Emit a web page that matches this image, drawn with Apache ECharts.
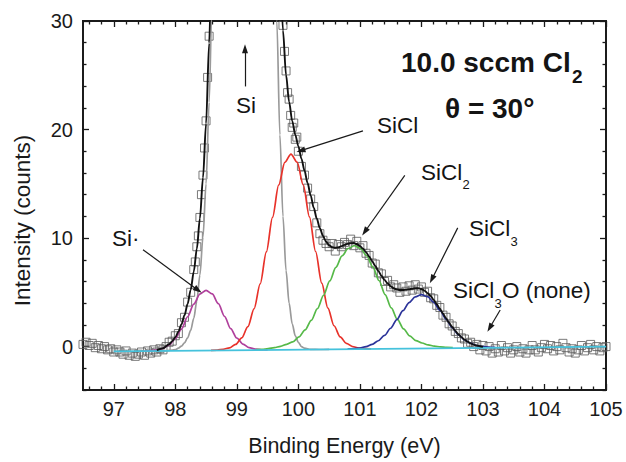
<!DOCTYPE html>
<html>
<head>
<meta charset="utf-8">
<script src="https://cdn.jsdelivr.net/npm/echarts@6/dist/echarts.min.js"></script>
<style>html,body{margin:0;padding:0;background:#fff}#c{width:626px;height:462px}</style>
</head>
<body>
<div id="c"></div>
<script>
// ---- data ----
const xMajor = [97, 98, 99, 100, 101, 102, 103, 104, 105];
const yMajor = [0, 10, 20, 30];

const measured = [
[96.50,0.2],[96.55,0.4],[96.60,0.1],[96.65,0.3],[96.70,-0.1],[96.75,0.1],[96.80,-0.2],[96.85,0.0],[96.90,-0.3],[96.95,-0.2],
[97.00,-0.5],[97.05,-0.3],[97.10,-0.5],[97.15,-0.7],[97.20,-0.4],[97.25,-0.8],[97.30,-0.6],[97.35,-0.9],[97.40,-0.7],[97.45,-0.5],
[97.50,-0.8],[97.55,-0.4],[97.60,-0.6],[97.65,-0.3],[97.70,-0.5],[97.75,-0.2],[97.80,-0.3],[97.85,0.0],
[97.90,0.4],[97.95,0.5],[98.00,1.0],[98.05,1.2],[98.10,2.2],[98.15,2.7],[98.20,4.1],[98.25,5.0],[98.30,7.1],[98.325,7.8],
[98.35,9.2],[98.375,10.2],[98.40,11.9],[98.425,14.0],[98.45,15.8],[98.475,18.3],[98.50,20.8],[98.525,24.8],[98.55,28.6],[98.575,32],
[98.60,38],[98.65,52],[98.70,70],[98.75,95],[98.80,125],[98.85,155],[98.90,190],[98.95,220],[99.00,245],[99.05,262],
[99.10,270],[99.15,268],[99.20,258],[99.25,240],[99.30,222],[99.35,195],[99.40,160],[99.45,122],[99.50,92],[99.55,70],
[99.575,62],[99.60,53],[99.625,48],[99.65,44],[99.675,40],[99.70,35.8],[99.725,32.0],[99.75,29.6],[99.775,27.2],[99.80,25.4],
[99.825,23.4],[99.85,22.8],[99.875,21.3],[99.90,20.2],[99.925,20.6],[99.95,19.1],[99.975,19.3],[100.00,18.0],
[100.05,16.6],[100.10,15.8],[100.15,14.6],[100.20,13.6],[100.25,12.9],[100.30,11.4],[100.35,10.4],[100.40,9.8],[100.45,9.5],[100.50,9.2],
[100.55,9.5],[100.60,8.8],[100.65,9.4],[100.70,9.2],[100.75,9.6],[100.80,9.4],[100.85,9.9],[100.90,9.3],[100.95,9.7],[101.00,9.1],
[101.05,9.3],[101.10,8.6],[101.15,8.4],[101.20,7.7],[101.25,7.6],[101.30,6.8],[101.35,6.7],[101.40,6.0],[101.45,6.1],[101.50,5.5],
[101.55,5.7],[101.60,5.4],[101.65,5.0],[101.70,5.5],[101.75,5.1],[101.80,5.6],[101.85,5.2],[101.90,5.7],[101.95,5.3],[102.00,5.5],
[102.05,5.0],[102.10,5.1],[102.15,4.5],[102.20,4.4],[102.25,3.8],[102.30,3.6],[102.35,2.9],[102.40,2.7],[102.45,2.1],[102.50,1.9],
[102.55,1.4],[102.60,1.2],[102.65,0.8],[102.70,0.7],[102.75,0.3],[102.80,0.4],[102.85,0.0],[102.90,0.2],[102.95,-0.3],[103.00,0.1],
[103.05,-0.4],[103.10,0.0],[103.15,-0.6],[103.20,-0.2],[103.25,-0.5],[103.30,0.1],[103.35,-0.4],[103.40,-0.1],[103.45,-0.6],[103.50,-0.3],
[103.55,0.0],[103.60,-0.5],[103.65,-0.2],[103.70,-0.6],[103.75,-0.3],[103.80,0.1],[103.85,-0.3],[103.90,-0.5],[103.95,-0.1],[104.00,0.2],
[104.05,-0.2],[104.10,0.1],[104.15,-0.4],[104.20,0.0],[104.25,-0.3],[104.30,0.3],[104.35,-0.1],[104.40,-0.5],[104.45,-0.2],[104.50,-0.6],
[104.55,-0.3],[104.60,0.1],[104.65,-0.4],[104.70,-0.1],[104.75,0.2],[104.80,-0.3],[104.85,0.0],[104.90,-0.4],[104.95,-0.1],[105.00,0.0]
];

const fitTotal = [
[97.70,-0.32],[97.80,-0.15],[97.90,0.21],[97.95,0.50],[98.00,0.85],[98.05,1.38],[98.10,2.05],[98.15,2.89],[98.20,3.93],[98.25,5.23],
[98.30,6.90],[98.35,9.01],[98.40,11.81],[98.45,15.56],[98.50,20.55],[98.55,27.96],[98.60,38.0],[98.65,51.8],[98.70,70.3],[98.80,124],
[98.95,222],[99.12,271],[99.30,222],[99.45,122],[99.55,71.4],[99.60,53.0],[99.65,44.6],[99.70,35.5],[99.75,29.14],[99.80,25.02],
[99.85,22.54],[99.90,20.80],[99.95,19.53],[100.00,18.46],[100.05,17.32],[100.10,16.22],[100.15,15.07],[100.20,13.93],[100.25,12.79],[100.30,11.78],
[100.35,10.91],[100.40,10.20],[100.45,9.67],[100.50,9.34],[100.55,9.15],[100.60,9.10],[100.65,9.14],[100.70,9.25],[100.75,9.37],[100.80,9.47],
[100.85,9.53],[100.90,9.54],[100.95,9.45],[101.00,9.27],[101.05,9.03],[101.10,8.70],[101.15,8.30],[101.20,7.87],[101.25,7.42],[101.30,6.97],
[101.35,6.53],[101.40,6.15],[101.45,5.82],[101.50,5.56],[101.55,5.38],[101.60,5.26],[101.65,5.21],[101.70,5.21],[101.75,5.25],[101.80,5.29],
[101.85,5.33],[101.90,5.38],[101.95,5.38],[102.00,5.30],[102.05,5.16],[102.10,4.93],[102.15,4.66],[102.20,4.30],[102.25,3.90],[102.30,3.48],
[102.35,3.05],[102.40,2.61],[102.45,2.19],[102.50,1.81],[102.55,1.45],[102.60,1.13],[102.65,0.87],[102.70,0.64],[102.75,0.46],[102.80,0.30],
[102.85,0.18],[102.90,0.10],[102.95,0.03],[103.00,-0.02]
];

const peakSi = [
[97.50,-0.42],[97.70,-0.41],[97.80,-0.39],[97.90,-0.35],[98.00,-0.28],[98.05,-0.15],[98.10,0.05],[98.15,0.35],[98.20,0.8],[98.25,1.5],
[98.30,2.6],[98.35,4.2],[98.40,6.6],[98.45,10.1],[98.50,15.0],[98.55,22.5],[98.60,32.8],[98.65,47],[98.70,66],[98.80,120],
[98.95,220],[99.12,270],[99.30,220],[99.45,120],[99.55,62],[99.60,42],[99.65,30],[99.70,19.5],[99.75,12],[99.80,7],
[99.85,4],[99.90,2.1],[99.95,1.0],[100.00,0.4],[100.05,0.0],[100.10,-0.15],[100.20,-0.25],[100.35,-0.27],[100.50,-0.25]
];

const peakSiStar = [
[97.5,-0.41],[97.6,-0.39],[97.7,-0.32],[97.8,-0.17],[97.9,0.16],[98.0,0.74],[98.1,1.61],[98.2,2.75],[98.3,3.92],[98.4,4.84],
[98.5,5.18],[98.6,4.85],[98.7,3.95],[98.8,2.78],[98.9,1.66],[99.0,0.79],[99.1,0.23],[99.2,-0.09],[99.3,-0.23],[99.4,-0.29],[99.5,-0.30]
];

const peakSiCl = [
[98.58,-0.35],[98.68,-0.32],[98.78,-0.25],[98.88,-0.11],[98.98,0.20],[99.08,0.80],[99.18,1.84],[99.28,3.48],[99.38,5.79],[99.48,8.72],
[99.58,11.91],[99.68,14.87],[99.78,16.98],[99.88,17.74],[99.98,16.99],[100.08,14.89],[100.18,11.95],[100.28,8.76],[100.38,5.85],[100.48,3.55],
[100.58,1.92],[100.68,0.89],[100.78,0.30],[100.88,0.01],[100.98,-0.13],[101.08,-0.18],[101.18,-0.21]
];

const peakSiCl2 = [
[99.31,-0.28],[99.41,-0.25],[99.51,-0.19],[99.61,-0.10],[99.71,0.02],[99.81,0.21],[99.91,0.43],[100.01,0.89],[100.11,1.54],[100.21,2.42],
[100.31,3.50],[100.41,4.73],[100.51,6.05],[100.61,7.30],[100.71,8.35],[100.81,9.04],[100.91,9.29],[101.01,9.05],[101.11,8.37],[101.21,7.34],
[101.31,6.09],[101.41,4.79],[101.51,3.56],[101.61,2.50],[101.71,1.63],[101.81,0.99],[101.91,0.55],[102.01,0.33],[102.11,0.16],[102.21,0.04],
[102.31,-0.03],[102.41,-0.08],[102.51,-0.10]
];

const peakSiCl3 = [
[100.8,-0.22],[100.9,-0.18],[101.0,-0.13],[101.1,0.00],[101.2,0.21],[101.3,0.54],[101.4,1.03],[101.5,1.69],[101.6,2.48],[101.7,3.31],
[101.8,4.06],[101.9,4.58],[102.0,4.78],[102.1,4.60],[102.2,4.08],[102.3,3.35],[102.4,2.52],[102.5,1.75],[102.6,1.09],[102.7,0.62],
[102.8,0.30],[102.9,0.10],[103.0,-0.01],[103.1,-0.06],[103.2,-0.08]
];

const background = [[97.0,-0.45],[105.0,0.0]];

// annotation arrows [from, to] in data units
const arrows = [
  [[99.133,23.97],[99.133,27.44]],
  [[101.05,19.87],[100.04,18.05]],
  [[101.73,15.77],[101.08,10.58]],
  [[102.59,10.94],[102.17,6.20]],
  [[103.28,3.37],[103.11,1.73]],
  [[97.475,8.93],[98.37,5.20]]
];

// ---- chart ----
const FONT = 'Liberation Sans, Arial, sans-serif';
const minorX = []; for (let i = 966; i <= 1050; i += 2) { if (i % 10 !== 0) minorX.push(i / 10); }
const minorY = []; for (let v = -4; v <= 30; v += 2) { if (v % 10 !== 0) minorY.push(v); }

const axisLineStyle = { color: '#1a1a1a', width: 1.8 };
function xAx(pos, ticks, len, withLabels) {
  const a = {
    type: 'value', position: pos, min: 96.5, max: 105, gridIndex: 0,
    axisLine: { show: true, onZero: false, lineStyle: axisLineStyle },
    axisTick: { show: true, inside: true, length: len, customValues: ticks, lineStyle: { color: '#1a1a1a', width: 1.3 } },
    axisLabel: { show: false },
    splitLine: { show: false }
  };
  if (withLabels) {
    a.axisLabel = { show: true, customValues: xMajor, fontSize: 20, fontFamily: FONT, color: '#1a1a1a', margin: 9 };
    a.name = 'Binding Energy (eV)';
    a.nameLocation = 'middle';
    a.nameGap = 45;
    a.nameTextStyle = { fontSize: 21.5, fontFamily: FONT, color: '#1a1a1a' };
  }
  return a;
}
function yAx(pos, ticks, len, withLabels) {
  const a = {
    type: 'value', position: pos, min: -4, max: 30, interval: 2, gridIndex: 0,
    axisLine: { show: true, onZero: false, lineStyle: axisLineStyle },
    axisTick: { show: true, inside: true, length: len, customValues: ticks, lineStyle: { color: '#1a1a1a', width: 1.3 } },
    axisLabel: { show: false },
    splitLine: { show: false }
  };
  if (withLabels) {
    a.axisLabel = { show: true, customValues: yMajor, fontSize: 20, fontFamily: FONT, color: '#1a1a1a', margin: 10 };
    a.name = 'Intensity (counts)';
    a.nameLocation = 'middle';
    a.nameGap = 49;
    a.nameTextStyle = { fontSize: 22.5, fontFamily: FONT, color: '#1a1a1a', padding: [0, 30, 0, 0] };
  }
  return a;
}

function curve(name, data, color, width, z) {
  return {
    name, type: 'line', data, xAxisIndex: 0, yAxisIndex: 0,
    showSymbol: false, symbol: 'none', smooth: 0.3, smoothMonotone: 'x',
    lineStyle: { color, width }, clip: true, z, silent: true, animation: false
  };
}

const baseSeries = curve('Background', background, '#45c2dc', 1.7, 4);
baseSeries.smooth = false;
baseSeries.markLine = {
  silent: true, animation: false,
  symbol: ['none', 'triangle'], symbolSize: [6, 9],
  label: { show: false },
  lineStyle: { color: '#1a1a1a', width: 1.2, type: 'solid' },
  emphasis: { disabled: true },
  data: arrows.map(a => [{ coord: a[0] }, { coord: a[1] }])
};

const txt = (x, y, text, size, weight, align) => ({
  type: 'text', x, y, silent: true,
  style: { text, fontSize: size, fontWeight: weight || 'normal', fontFamily: FONT, fill: '#141414',
           align: align || 'left', verticalAlign: 'middle' }
});

const option = {
  animation: false,
  backgroundColor: '#ffffff',
  grid: { left: 83, right: 20, top: 21, bottom: 68, containLabel: false },
  xAxis: [
    xAx('bottom', xMajor, 6, true),
    xAx('bottom', minorX, 3.5, false),
    xAx('top', xMajor, 6, false),
    xAx('top', minorX, 3.5, false)
  ],
  yAxis: [
    yAx('left', yMajor, 6, true),
    yAx('left', minorY, 3.5, false),
    yAx('right', yMajor, 6, false),
    yAx('right', minorY, 3.5, false)
  ],
  series: [
    {
      name: 'Data', type: 'scatter', data: measured, xAxisIndex: 0, yAxisIndex: 0,
      symbol: 'rect', symbolSize: 8, clip: true, z: 1, silent: true,
      itemStyle: { color: 'rgba(255,255,255,0)', borderColor: '#595959', borderWidth: 1 }
    },
    curve('Si', peakSi, '#9a9a9a', 1.7, 2),
    curve('Si*', peakSiStar, '#b0409c', 1.7, 3),
    curve('SiCl', peakSiCl, '#e8322a', 1.7, 3),
    curve('SiCl2', peakSiCl2, '#56b948', 1.7, 3),
    curve('SiCl3', peakSiCl3, '#2b3399', 1.7, 3),
    baseSeries,
    curve('Fit', fitTotal, '#111111', 1.9, 5)
  ],
  graphic: [
    txt(401, 62, '10.0 sccm Cl', 28, 'bold'),
    txt(572, 76, '2', 19, 'bold'),
    txt(445, 108, 'θ = 30°', 28, 'bold'),
    txt(246, 105, 'Si', 22.5, 'normal', 'center'),
    txt(377, 125, 'SiCl', 22.5),
    txt(421, 172, 'SiCl', 22.5),
    txt(462.5, 184, '2', 13),
    txt(469, 228, 'SiCl', 22.5),
    txt(510.5, 241, '3', 13),
    txt(453, 290, 'SiCl', 22.5),
    txt(494.5, 303, '3', 13),
    txt(502, 290, 'O (none)', 22.5),
    txt(112, 238, 'Si·', 22.5)
  ]
};

const chart = echarts.init(document.getElementById('c'), null, { renderer: 'svg', width: 626, height: 462 });
chart.setOption(option);
</script>
</body>
</html>
